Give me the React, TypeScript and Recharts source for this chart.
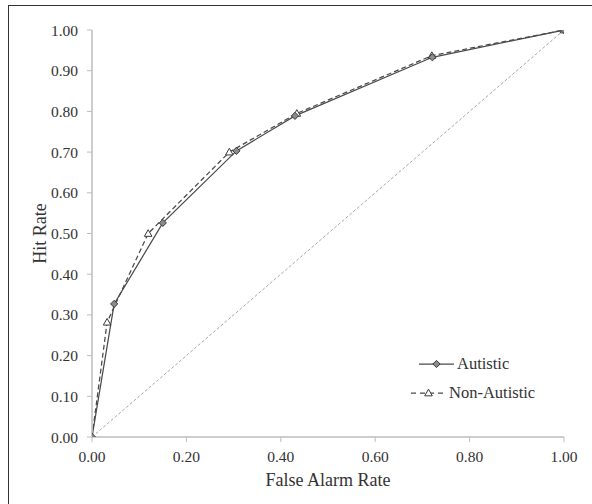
import React from 'react';
import { LineChart, Line, XAxis, YAxis } from 'recharts';

const falseAlarmAutistic = [0, 0.047, 0.15, 0.306, 0.43, 0.721, 1];
const hitAutistic = [0, 0.327, 0.526, 0.703, 0.789, 0.933, 1];
const falseAlarmNonAutistic = [0, 0.032, 0.119, 0.291, 0.434, 0.72, 1];
const hitNonAutistic = [0, 0.282, 0.5, 0.7, 0.795, 0.937, 1];
const chanceX = [0, 1];
const chanceY = [0, 1];
const xTicks = [0, 0.2, 0.4, 0.6, 0.8, 1];
const yTicks = [0, 0.1, 0.2, 0.3, 0.4, 0.5, 0.6, 0.7, 0.8, 0.9, 1];

const autistic = falseAlarmAutistic.map((x, i) => ({ x, y: hitAutistic[i] }));
const nonAutistic = falseAlarmNonAutistic.map((x, i) => ({ x, y: hitNonAutistic[i] }));
const chance = chanceX.map((x, i) => ({ x, y: chanceY[i] }));

const FONT = '"Liberation Serif", "Times New Roman", serif';
const INK = '#4a4a4a';

const Diamond = (props: any) => {
  const { cx, cy } = props;
  if (cx == null || cy == null) return null;
  const r = 3.6;
  return (
    <path
      d={`M${cx},${cy - r}L${cx + r},${cy}L${cx},${cy + r}L${cx - r},${cy}Z`}
      fill="#8c8c8c"
      stroke="#3a3a3a"
      strokeWidth={1}
    />
  );
};

const Triangle = (props: any) => {
  const { cx, cy } = props;
  if (cx == null || cy == null) return null;
  const r = 3.8;
  return (
    <path
      d={`M${cx},${cy - r}L${cx + r},${cy + r * 0.75}L${cx - r},${cy + r * 0.75}Z`}
      fill="#ffffff"
      stroke="#3a3a3a"
      strokeWidth={1}
    />
  );
};

// legend drawn over the plot, like the Excel original
const ChartLegend = () => (
  <div style={{ position: 'absolute', left: 408, top: 354, width: 150, height: 60, fontFamily: FONT, fontSize: 16.5, color: '#333' }}>
    <div style={{ position: 'absolute', left: 11, top: 0, display: 'flex', alignItems: 'center', height: 20, whiteSpace: 'nowrap' }}>
      <svg width={35} height={12}>
        <line x1={0} y1={6} x2={35} y2={6} stroke={INK} strokeWidth={1.25} />
        <Diamond cx={17.5} cy={6} />
      </svg>
      <span style={{ marginLeft: 3 }}>Autistic</span>
    </div>
    <div style={{ position: 'absolute', left: 2, top: 29, display: 'flex', alignItems: 'center', height: 20, whiteSpace: 'nowrap' }}>
      <svg width={37} height={12}>
        <line x1={1} y1={6} x2={37} y2={6} stroke={INK} strokeWidth={1.25} strokeDasharray="5 4" />
        <Triangle cx={18.5} cy={6} />
      </svg>
      <span style={{ marginLeft: 2 }}>Non-Autistic</span>
    </div>
  </div>
);

const YTitle = (props: any) => {
  const { viewBox } = props;
  const x = viewBox.x + 8;
  const y = viewBox.y + viewBox.height / 2;
  return (
    <text x={x} y={y} transform={`rotate(-90, ${x}, ${y})`} textAnchor="middle" dominantBaseline="central"
      fontFamily={FONT} fontSize={18} fill="#333">
      Hit Rate
    </text>
  );
};

const XTitle = (props: any) => {
  const { viewBox } = props;
  const x = viewBox.x + viewBox.width / 2;
  const y = viewBox.y + 43;
  return (
    <text x={x} y={y} textAnchor="middle" dominantBaseline="central" fontFamily={FONT} fontSize={18} fill="#333">
      False Alarm Rate
    </text>
  );
};

export default function App() {
  const tickStyle = { fontFamily: FONT, fontSize: 15.5, fill: '#333' };
  return (
    <div style={{ position: 'absolute', left: 0, top: 0, width: 592, height: 504, overflow: 'hidden', background: '#fff' }}>
      <div style={{ position: 'absolute', left: 8, top: 5, width: 620, height: 540, border: '1.5px solid #333' }} />
      <div style={{ position: 'absolute', left: 0, top: 0 }}>
        <LineChart width={592} height={504} margin={{ top: 30, right: 28, left: 32, bottom: 7 }}>
          <XAxis
            type="number"
            dataKey="x"
            domain={[0, 1]}
            ticks={xTicks}
            tickFormatter={(v: number) => v.toFixed(2)}
            tick={tickStyle}
            tickSize={5}
            tickMargin={9}
            height={60}
            axisLine={{ stroke: '#bdbdbd', strokeWidth: 1.5 }}
            tickLine={{ stroke: '#bdbdbd' }}
            allowDataOverflow
            label={<XTitle />}
          />
          <YAxis
            type="number"
            dataKey="y"
            domain={[0, 1]}
            ticks={yTicks}
            tickFormatter={(v: number) => v.toFixed(2)}
            tick={tickStyle}
            tickSize={5}
            tickMargin={9}
            width={60}
            axisLine={{ stroke: '#bdbdbd', strokeWidth: 1.5 }}
            tickLine={{ stroke: '#bdbdbd' }}
            allowDataOverflow
            label={<YTitle />}
          />
          <Line
            data={chance}
            dataKey="y"
            stroke="#a8a8a8"
            strokeWidth={1}
            strokeDasharray="3 2"
            dot={false}
            activeDot={false}
            legendType="none"
            isAnimationActive={false}
          />
          <Line
            data={nonAutistic}
            dataKey="y"
            name="Non-Autistic"
            stroke={INK}
            strokeWidth={1.25}
            strokeDasharray="5 3"
            dot={<Triangle />}
            activeDot={false}
            isAnimationActive={false}
          />
          <Line
            data={autistic}
            dataKey="y"
            name="Autistic"
            stroke={INK}
            strokeWidth={1.25}
            dot={<Diamond />}
            activeDot={false}
            isAnimationActive={false}
          />
        </LineChart>
      </div>
      <ChartLegend />
    </div>
  );
}
